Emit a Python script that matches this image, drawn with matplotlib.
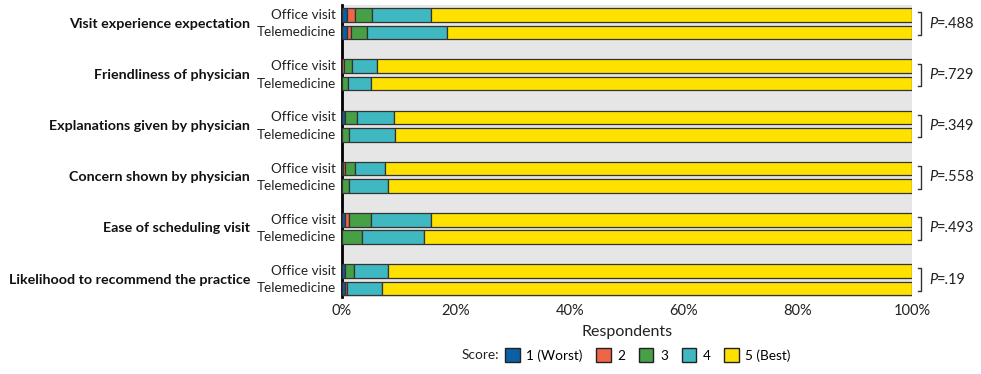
import matplotlib
matplotlib.use("Agg")
import matplotlib.pyplot as plt
from matplotlib.patches import Patch
import numpy as np

plt.rcParams['font.family'] = ['Lato', 'DejaVu Sans']

categories = ["Visit experience expectation", "Friendliness of physician",
              "Explanations given by physician", "Concern shown by physician",
              "Ease of scheduling visit", "Likelihood to recommend the practice"]
modes = ["Office visit", "Telemedicine"]
score_labels = ["1 (Worst)", "2", "3", "4", "5 (Best)"]
p_values = ["P=.488", "P=.729", "P=.349", "P=.558", "P=.493", "P=.19"]

# percent of respondents for scores 1..5
office = [
    [0.9, 1.4, 2.9, 10.4, 84.4],
    [0.0, 0.3, 1.5, 4.4, 93.8],
    [0.6, 0.0, 2.1, 6.4, 90.9],
    [0.2, 0.3, 1.7, 5.4, 92.4],
    [0.5, 0.8, 3.8, 10.6, 84.3],
    [0.6, 0.0, 1.5, 5.9, 92.0],
]
telemedicine = [
    [0.8, 0.8, 2.8, 14.1, 81.5],
    [0.0, 0.0, 1.1, 3.9, 95.0],
    [0.0, 0.0, 1.2, 8.1, 90.7],
    [0.0, 0.0, 1.2, 6.8, 92.0],
    [0.0, 0.0, 3.5, 10.9, 85.6],
    [0.5, 0.3, 0.0, 6.3, 92.9],
]
colors = ["#0b5fa5", "#ee6548", "#47a046", "#3fb8c1", "#ffe100"]

fig = plt.figure(figsize=(9.81, 3.74), dpi=100)
ax = fig.add_axes([342/981, 1-297/374, 570/981, 292/374])
ax.set_facecolor("#e6e6e6")

off = 0.169
h = 0.265
y = np.arange(len(categories))
for data, dy in ((office, -off), (telemedicine, off)):
    arr = np.array(data)
    left = np.zeros(len(categories))
    for k in range(5):
        ax.barh(y + dy, arr[:, k], left=left, height=h, color=colors[k],
                edgecolor="#333333", linewidth=0.9, zorder=3)
        left += arr[:, k]

ax.set_xlim(0, 100)
ax.set_ylim(5.338, -0.365)
for s in ("top", "right", "bottom"):
    ax.spines[s].set_visible(False)
ax.spines["left"].set_linewidth(2)
ax.spines["left"].set_color("black")
ax.set_yticks([])
ax.set_xticks([0, 20, 40, 60, 80, 100])
ax.set_xticklabels([f"{v}%" for v in [0, 20, 40, 60, 80, 100]], fontsize=10.5, color="#222222")
ax.tick_params(axis="x", length=0, pad=5)
ax.set_xlabel("Respondents", fontsize=11.5, color="#222222", labelpad=5)

tr = ax.get_yaxis_transform()
for i, cat in enumerate(categories):
    ax.text(-0.010, i - off, modes[0], transform=tr,
            ha="right", va="center", fontsize=9.7, color="#222222")
    ax.text(-0.010, i + off, modes[1], transform=tr,
            ha="right", va="center", fontsize=9.7, color="#222222")
    ax.text(-0.161, i, cat, transform=tr,
            ha="right", va="center", fontsize=10.3, fontweight="bold", color="#111111")
    ax.plot([1.011, 1.016, 1.016, 1.011], [i - off - 0.05, i - off - 0.05, i + off + 0.05, i + off + 0.05],
            transform=tr, color="#333333", lw=1, clip_on=False)
    t1 = ax.text(1.03, i, "P", transform=tr, ha="left", va="center", fontsize=10.5,
                 style="italic", color="#222222")
    ax.annotate(p_values[i][1:], xycoords=t1, xy=(1, 0.5), ha="left", va="center",
                fontsize=10.5, color="#222222")

handles = [Patch(facecolor=c, edgecolor="#222222", linewidth=1) for c in colors]
leg = fig.legend(handles, score_labels, loc="center", bbox_to_anchor=(648/981, 1-355/374),
                 ncol=5, frameon=False, fontsize=9.8, handlelength=1.05, handleheight=1.3,
                 handletextpad=0.5, columnspacing=1.0)
fig.canvas.draw()
bb = leg.get_window_extent()
fig.text((bb.x0 - 1) / 981, 1 - 355/374, "Score:", ha="right", va="center", fontsize=9.8, color="#222222")

fig.savefig("out.png", dpi=100, facecolor="white")
